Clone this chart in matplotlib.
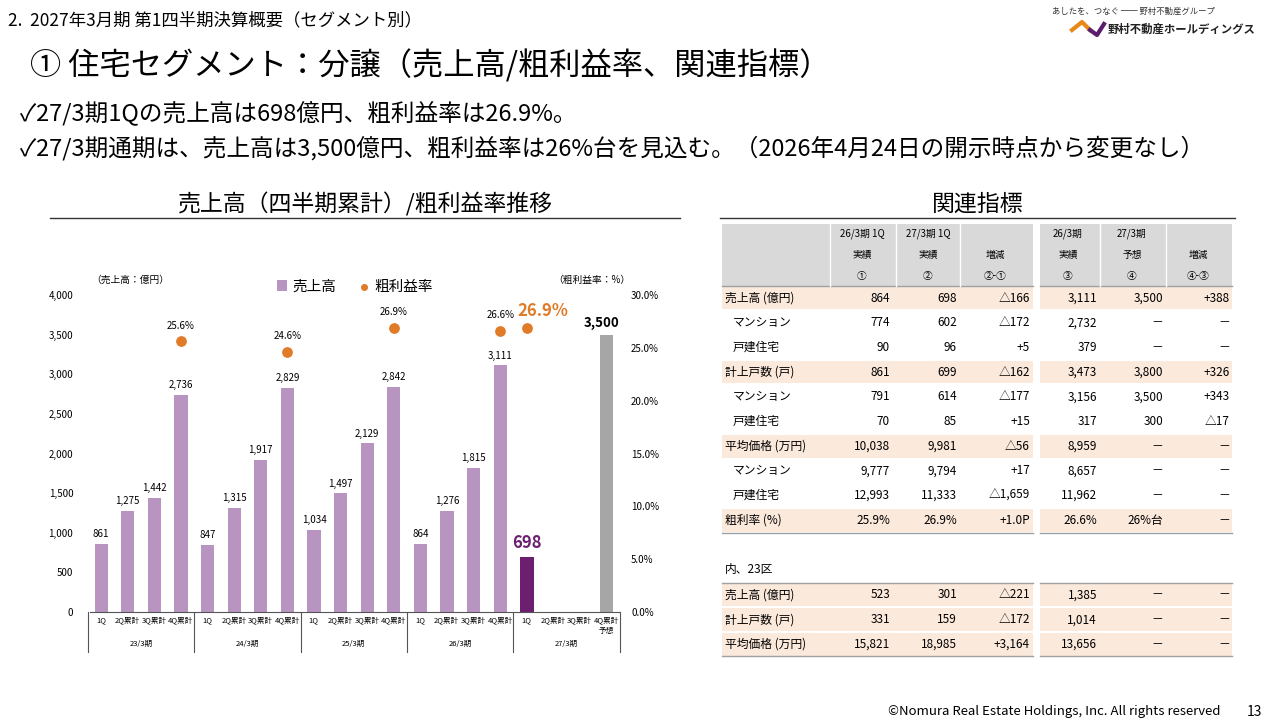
import matplotlib
matplotlib.use("Agg")
import matplotlib.pyplot as plt
import numpy as np
from matplotlib.patches import Rectangle

plt.rcParams['font.family'] = ['Noto Sans CJK JP', 'DejaVu Sans']

periods = ["23/3期", "24/3期", "25/3期", "26/3期", "27/3期"]
quarters = ["1Q", "2Q累計", "3Q累計", "4Q累計"]
sales = [861, 1275, 1442, 2736, 847, 1315, 1917, 2829, 1034, 1497, 2129, 2842,
         864, 1276, 1815, 3111, 698, np.nan, np.nan, 3500]
margin_idx = [3, 7, 11, 15, 16]
margin_vals = [25.6, 24.6, 26.9, 26.6, 26.9]

hdr1 = ["26/3期 1Q", "27/3期 1Q", "", "26/3期", "27/3期", ""]
hdr2 = ["実績", "実績", "増減", "実績", "予想", "増減"]
hdr3 = ["①", "②", "②-①", "③", "④", "④-③"]
rows = [
    ("売上高 (億円)", ["864", "698", "△166", "3,111", "3,500", "+388"], True),
    ("  マンション", ["774", "602", "△172", "2,732", "－", "－"], False),
    ("  戸建住宅", ["90", "96", "+5", "379", "－", "－"], False),
    ("計上戸数 (戸)", ["861", "699", "△162", "3,473", "3,800", "+326"], True),
    ("  マンション", ["791", "614", "△177", "3,156", "3,500", "+343"], False),
    ("  戸建住宅", ["70", "85", "+15", "317", "300", "△17"], False),
    ("平均価格 (万円)", ["10,038", "9,981", "△56", "8,959", "－", "－"], True),
    ("  マンション", ["9,777", "9,794", "+17", "8,657", "－", "－"], False),
    ("  戸建住宅", ["12,993", "11,333", "△1,659", "11,962", "－", "－"], False),
    ("粗利率 (%)", ["25.9%", "26.9%", "+1.0P", "26.6%", "26%台", "－"], True),
]
rows23 = [
    ("売上高 (億円)", ["523", "301", "△221", "1,385", "－", "－"]),
    ("計上戸数 (戸)", ["331", "159", "△172", "1,014", "－", "－"]),
    ("平均価格 (万円)", ["15,821", "18,985", "+3,164", "13,656", "－", "－"]),
]

fig = plt.figure(figsize=(12.8, 7.2), dpi=100)
bg = fig.add_axes([0, 0, 1, 1])
bg.set_xlim(0, 1280); bg.set_ylim(720, 0); bg.axis('off')

# Titles
bg.text(8, 20, "2.  2027年3月期 第1四半期決算概要（セグメント別）", fontsize=12.5, va='center')
bg.text(30, 66, "① 住宅セグメント：分譲（売上高/粗利益率、関連指標）", fontsize=22.5, va='center')
bg.text(20, 113, "✓27/3期1Qの売上高は698億円、粗利益率は26.9%。", fontsize=17, va='center')
bg.text(20, 148, "✓27/3期通期は、売上高は3,500億円、粗利益率は26%台を見込む。（2026年4月24日の開示時点から変更なし）", fontsize=17, va='center')
bg.text(1215, 11, "あしたを、つなぐ ── 野村不動産グループ", fontsize=6, ha='right', va='center', color='#333')
bg.text(1108, 29, "野村不動産ホールディングス", fontsize=8.2, ha='left', va='center', color='#222', fontweight='bold')
bg.plot([1072, 1082, 1090], [30, 22, 30], color='#e8891a', lw=3)
bg.plot([1090, 1097, 1104], [30, 35, 24], color='#5b1e6e', lw=3)
bg.text(1220, 712, "©Nomura Real Estate Holdings, Inc. All rights reserved", fontsize=9.5, ha='right', va='center')
bg.text(1262, 712, "13", fontsize=10, ha='right', va='center')

bg.text(365, 204, "売上高（四半期累計）/粗利益率推移", fontsize=16.5, ha='center', va='center')
bg.plot([50, 680], [218, 218], color='#333', lw=1)
bg.text(978, 204, "関連指標", fontsize=16.5, ha='center', va='center')
bg.plot([720, 1235], [218, 218], color='#333', lw=1)

# Chart
ax = fig.add_axes([90/1280, 1-612/720, 530/1280, 317/720])
x = np.arange(len(sales))
colors = ['#b894c1'] * 20
colors[16] = '#6b1f6e'
colors[19] = '#a6a6a6'
ax.bar(x, sales, width=0.5, color=colors, label='売上高')
for i, v in enumerate(sales):
    if np.isnan(v):
        continue
    if i == 16:
        ax.text(i, v + 60, f"{int(v):,}", ha='center', va='bottom', fontsize=12, color='#6b1f6e', fontweight='bold')
    elif i == 19:
        ax.text(i - 0.2, v + 60, f"{int(v):,}", ha='center', va='bottom', fontsize=9.5, fontweight='bold')
    else:
        ax.text(i, v + 60, f"{int(v):,}", ha='center', va='bottom', fontsize=7)
ax.set_xlim(-0.42, 19.5)
ax.set_ylim(0, 4000)
ax.set_yticks(range(0, 4001, 500))
ax.set_yticklabels([f"{t:,}" for t in range(0, 4001, 500)], fontsize=7)
ax.tick_params(axis='y', length=0, pad=12)
ax.set_xticks([])
for s in ['top', 'right', 'left']:
    ax.spines[s].set_visible(False)
ax.spines['bottom'].set_color('#555')
ax2 = ax.twinx()
ax2.scatter(margin_idx, margin_vals, color='#e07b28', s=45, zorder=3, label='粗利益率')
for i, v in zip(margin_idx, margin_vals):
    if i == 16:
        ax2.text(i + 0.6, v + 0.7, f"{v}%", ha='center', va='bottom', fontsize=12, color='#e07b28', fontweight='bold')
    else:
        ax2.text(i, v + 1.0, f"{v}%", ha='center', va='bottom', fontsize=7)
ax2.set_ylim(0, 30)
ax2.set_yticks(range(0, 31, 5))
ax2.set_yticklabels([f"{t:.1f}%" for t in range(0, 31, 5)], fontsize=7)
ax2.tick_params(axis='y', length=0, pad=8)
for s in ['top', 'right', 'left', 'bottom']:
    ax2.spines[s].set_visible(False)
ax.text(-0.38, 4150, "（売上高：億円）", fontsize=7, ha='left')
ax.text(19.9, 4150, "（粗利益率：%）", fontsize=7, ha='right')
h1, l1 = ax.get_legend_handles_labels()
h2, l2 = ax2.get_legend_handles_labels()
ax.legend(h1 + h2, l1 + l2, loc='upper center', bbox_to_anchor=(0.5, 1.09), ncol=2, frameon=False, fontsize=10.5,
          handlelength=0.7, handletextpad=0.4, columnspacing=1.5, markerscale=0.6)

# x labels (category axis) in bg coords
x0, dx = 101, 26.6
for i in range(20):
    px = x0 + i * dx
    bg.text(px, 620, quarters[i % 4], fontsize=5.5, ha='center', va='center')
bg.text(x0 + 19 * dx, 631, "予想", fontsize=5.5, ha='center', va='center')
for g in range(6):
    px = x0 + (g * 4 - 0.5) * dx
    bg.plot([px, px], [612, 652], color='#555', lw=0.8)
for g, p in enumerate(periods):
    bg.text(x0 + (g * 4 + 1.5) * dx, 644, p, fontsize=5.5, ha='center', va='center')

# Table
lab_x = 725
col_r = [890, 957, 1030, 1097, 1163, 1230]
col_c = [862, 928, 995, 1068, 1132, 1198]
blocks = [(722, 1033), (1040, 1232)]
for a, b in blocks:
    bg.add_patch(Rectangle((a, 224), b - a, 62, color='#d9d9d9', lw=0))
    bg.plot([a, b], [286, 286], color='#a0a0a0', lw=1)
for xs in [830, 896, 960, 1100, 1166]:
    bg.plot([xs, xs], [224, 286], color='white', lw=1)
for j in range(6):
    bg.text(col_c[j], 234, hdr1[j], fontsize=7, ha='center', va='center')
    bg.text(col_c[j], 255, hdr2[j], fontsize=7, ha='center', va='center')
    bg.text(col_c[j], 276, hdr3[j], fontsize=7, ha='center', va='center')
rh = 24.7
for r, (lab, vals, hl) in enumerate(rows):
    yc = 298 + r * rh
    if hl:
        for a, b in blocks:
            bg.add_patch(Rectangle((a, yc - rh / 2 + 1), b - a, rh - 2, color='#fbe9dc', lw=0))
    bg.text(lab_x if hl else lab_x + 8, yc, lab.strip(), fontsize=8.5, va='center')
    for j, v in enumerate(vals):
        bg.text(col_r[j], yc, v, fontsize=8.5, ha='right', va='center')
for a, b in blocks:
    bg.plot([a, b], [533, 533], color='#a0a0a0', lw=1)
bg.text(lab_x, 570, "内、23区", fontsize=8.5, va='center')
for a, b in blocks:
    bg.plot([a, b], [583, 583], color='#a0a0a0', lw=1)
    bg.plot([a, b], [656, 656], color='#a0a0a0', lw=1)
for r, (lab, vals) in enumerate(rows23):
    yc = 595 + r * rh
    for a, b in blocks:
        bg.add_patch(Rectangle((a, yc - rh / 2 + 1), b - a, rh - 2, color='#fbe9dc', lw=0))
    bg.text(lab_x, yc, lab, fontsize=8.5, va='center')
    for j, v in enumerate(vals):
        bg.text(col_r[j], yc, v, fontsize=8.5, ha='right', va='center')

fig.savefig("out.png", dpi=100)
